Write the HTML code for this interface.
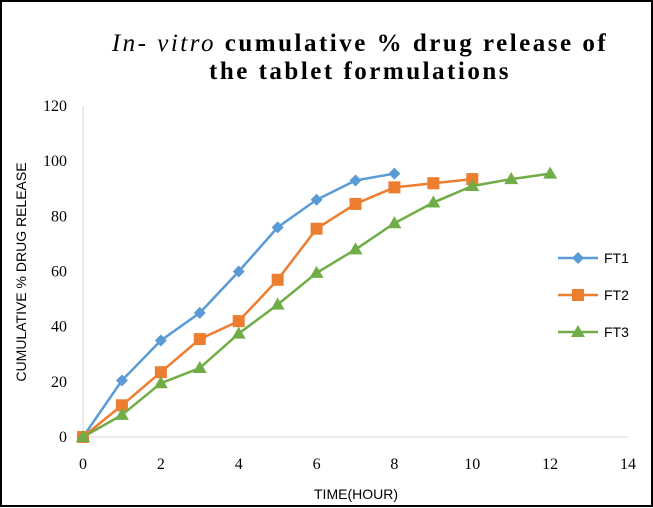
<!DOCTYPE html>
<html><head><meta charset="utf-8"><style>
html,body{margin:0;padding:0;background:#fff}
svg{display:block}
</style></head><body>
<svg id="chart" width="653" height="508" xmlns="http://www.w3.org/2000/svg">
<rect x="1" y="1" width="651" height="505" fill="#fff" stroke="#000" stroke-width="2"/>
<text x="360" y="51" text-anchor="middle" font-family="'Liberation Serif',serif" font-size="25" font-weight="bold" letter-spacing="2.5"><tspan font-style="italic" font-weight="normal">In- vitro</tspan> cumulative %  drug release of</text>
<text x="360" y="79" text-anchor="middle" font-family="'Liberation Serif',serif" font-size="25" font-weight="bold" letter-spacing="2.5">the tablet formulations</text>
<g id="axes"></g>
<g id="series"></g>
<text x="356" y="499" text-anchor="middle" font-family="'Liberation Sans',sans-serif" font-size="14">TIME(HOUR)</text>
<text transform="translate(26,272) rotate(-90)" text-anchor="middle" font-family="'Liberation Sans',sans-serif" font-size="14">CUMULATIVE % DRUG RELEASE</text>
<g id="legend"></g>
</svg>
<script>
const seriesNames=["FT1","FT2","FT3"];
const ft1Times=[0,1,2,3,4,5,6,7,8];
const ft1Values=[0,20.5,35,45,60,76,86,93,95.5];
const ft2Times=[0,1,2,3,4,5,6,7,8,9,10];
const ft2Values=[0,11.5,23.5,35.5,42,57,75.5,84.5,90.5,92,93.5];
const ft3Times=[0,1,2,3,4,5,6,7,8,9,10,11,12];
const ft3Values=[0,8,19.5,25,37.5,48,59.5,68,77.5,85,91,93.5,95.5];
const xTicks=[0,2,4,6,8,10,12,14];
const yTicks=[0,20,40,60,80,100,120];
const colors=["#5b9bd5","#ed7d31","#70ad47"];
const NS="http://www.w3.org/2000/svg";
const X0=83,X1=628,Y0=437,Y1=106;
const xs=v=>X0+(v/14)*(X1-X0);
const ys=v=>Y0-(v/120)*(Y0-Y1);
function mk(tag,attrs,parent){const e=document.createElementNS(NS,tag);for(const k in attrs)e.setAttribute(k,attrs[k]);parent.appendChild(e);return e;}
const axes=document.getElementById('axes');
let l=mk('line',{x1:X0,y1:Y1,x2:X0,y2:Y0,stroke:'#d9d9d9'},axes);


l=mk('line',{x1:X0,y1:Y0,x2:X1,y2:Y0,stroke:'#d9d9d9'},axes);


xTicks.forEach(t=>{const e=mk('text',{x:xs(t),y:Y0+32,'text-anchor':'middle','font-family':"'Liberation Serif',serif",'font-size':16},axes);e.textContent=t;

});
yTicks.forEach(t=>{const e=mk('text',{x:X0-16,y:ys(t)+5,'text-anchor':'end','font-family':"'Liberation Serif',serif",'font-size':16},axes);e.textContent=t;

});
function marker(type,x,y,c,p){
 if(type===0)return mk('polygon',{points:`${x},${y-6} ${x+6},${y} ${x},${y+6} ${x-6},${y}`,fill:c},p);
 if(type===1)return mk('rect',{x:x-6,y:y-6,width:12,height:12,fill:c},p);
 return mk('polygon',{points:`${x},${y-7} ${x+7},${y+5} ${x-7},${y+5}`,fill:c},p);
}
const sg=document.getElementById('series');
const data=[[ft1Times,ft1Values],[ft2Times,ft2Values],[ft3Times,ft3Values]];
data.forEach((d,i)=>{
 const g=mk('g',{},sg);
 
 
 const pl=mk('polyline',{points:d[0].map((t,j)=>xs(t)+','+ys(d[1][j])).join(' '),fill:'none',stroke:colors[i],'stroke-width':2.5},g);
 
 
 d[0].forEach((t,j)=>{const m=marker(i,xs(t),ys(d[1][j]),colors[i],g);
 
 });
});
const lg=document.getElementById('legend');
seriesNames.forEach((n,i)=>{
 const y=258+i*37;
 const g=mk('g',{},lg);
 
 
 mk('line',{x1:558,y1:y,x2:598,y2:y,stroke:colors[i],'stroke-width':2.5},g);
 marker(i,578,y,colors[i],g);
 const t=mk('text',{x:604,y:y+5,'font-family':"'Liberation Sans',sans-serif",'font-size':14},g);t.textContent=n;
});
</script>
</body></html>
